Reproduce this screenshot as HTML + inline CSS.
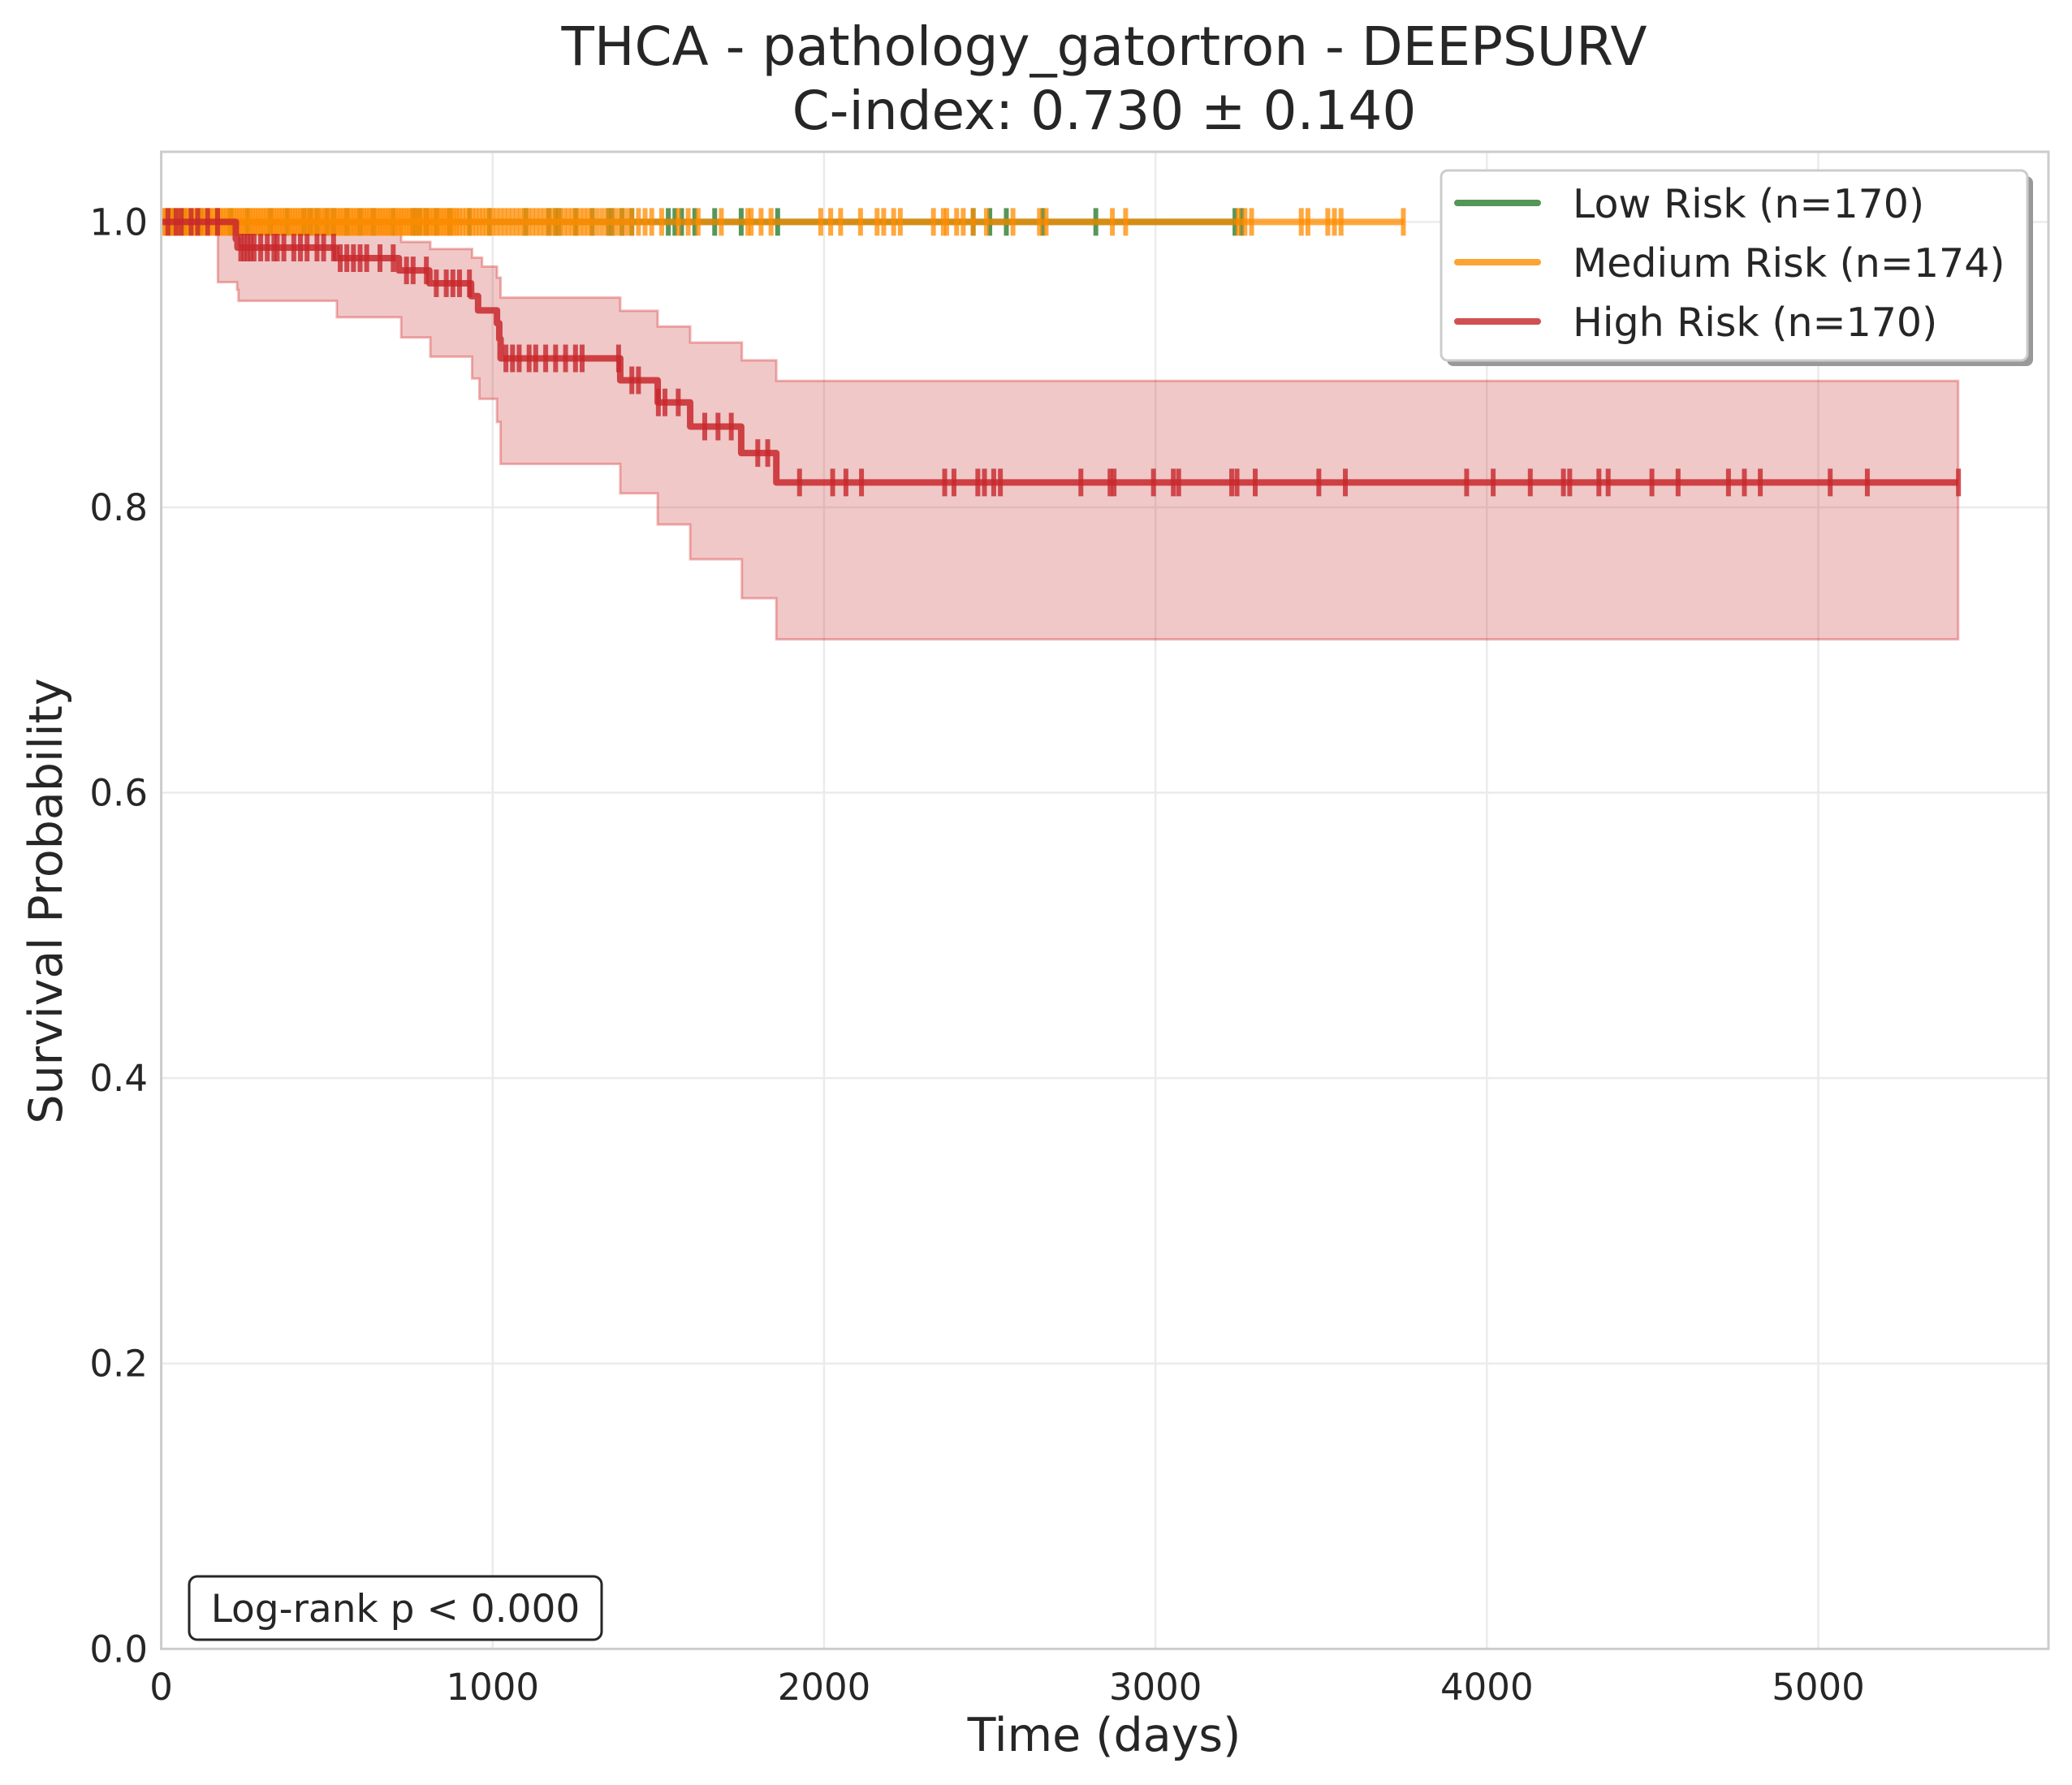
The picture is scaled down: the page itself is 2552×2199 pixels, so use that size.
<!DOCTYPE html>
<html><head><meta charset="utf-8"><style>
html,body{margin:0;padding:0;background:#fff}
svg{display:block;font-family:"DejaVu Sans","Liberation Sans",sans-serif}
</style></head><body>
<svg id="chart" width="2552" height="2199" viewBox="0 0 2552 2199" xmlns="http://www.w3.org/2000/svg">
<rect width="2552" height="2199" fill="#fff"/>
<g id="grid"></g>
<g id="bands"></g>
<g id="lines"></g>
<g id="axes"></g>
<text x="1360" y="80" font-size="66" text-anchor="middle" fill="#262626">THCA - pathology_gatortron - DEEPSURV</text>
<text x="1360" y="159" font-size="66" text-anchor="middle" fill="#262626">C-index: 0.730 ± 0.140</text>
<text x="1360" y="2157" font-size="57" text-anchor="middle" fill="#262626">Time (days)</text>
<text x="0" y="0" font-size="57" text-anchor="middle" fill="#262626" transform="translate(76,1110) rotate(-90)">Survival Probability</text>
<g>
<rect x="1782" y="217" width="722" height="234" rx="8" fill="#999"/>
<rect x="1775" y="210" width="722" height="234" rx="8" fill="#fff" stroke="#cccccc" stroke-width="3"/>
<line x1="1795" y1="250" x2="1894" y2="250" stroke="#559659" stroke-width="8" stroke-linecap="round"/>
<text x="1937" y="268" font-size="49" fill="#262626">Low Risk (n=170)</text>
<line x1="1795" y1="323" x2="1894" y2="323" stroke="#fba431" stroke-width="8" stroke-linecap="round"/>
<text x="1937" y="341" font-size="49" fill="#262626">Medium Risk (n=174)</text>
<line x1="1795" y1="396" x2="1894" y2="396" stroke="#d05152" stroke-width="8" stroke-linecap="round"/>
<text x="1937" y="414" font-size="49" fill="#262626">High Risk (n=170)</text>
</g>
<g>
<rect x="233" y="1942" width="508" height="78" rx="10" fill="#fff" stroke="#262626" stroke-width="3"/>
<text x="487" y="1998" font-size="47" text-anchor="middle" fill="#262626">Log-rank p &lt; 0.000</text>
</g>
</svg>
<script>
const xTicks=[0,1000,2000,3000,4000,5000];
const yTicks=[0,0.2,0.4,0.6,0.8,1.0];
const yTickLabels=["0.0","0.2","0.4","0.6","0.8","1.0"];
const highTimes=[0,225,230,527,717,809,935,956,1013,1020,1024,1385,1498,1596,1750,1856,5422];
const highSurv=[1.0,0.988,0.982,0.9746,0.966,0.957,0.948,0.938,0.929,0.918,0.9044,0.889,0.8735,0.8566,0.838,0.8174,0.8174];
const upperTimes=[0,724,812,938,968,1013,1024,1385,1498,1596,1752,1856,5422];
const upperSurv=[1.0,0.986,0.981,0.975,0.9687,0.961,0.947,0.9377,0.9267,0.9155,0.903,0.8886,0.8886];
const lowerTimes=[0,171,229,233,530,724,812,938,960,1013,1024,1385,1498,1596,1752,1856,5422];
const lowerSurv=[1.0,0.9578,0.9524,0.9447,0.9332,0.919,0.9056,0.8903,0.876,0.8598,0.8304,0.8098,0.788,0.7636,0.7363,0.7075,0.7075];
const highCensor=[20,45,60,90,110,140,170,240,250,260,270,280,300,320,340,350,370,400,420,440,470,490,520,540,560,580,600,620,660,700,740,760,800,830,860,880,900,930,1040,1060,1080,1110,1130,1160,1190,1220,1250,1270,1380,1420,1440,1500,1520,1560,1640,1680,1720,1800,1830,1926,2026,2066,2113,2364,2392,2464,2484,2512,2532,2775,2863,2875,2994,3054,3070,3230,3246,3301,3493,3573,3939,4019,4131,4231,4250,4338,4366,4498,4577,4729,4777,4825,5036,5148,5423];
const lowEnd=3260;
const lowCensor=[30,70,120,170,210,260,330,380,430,450,470,500,520,560,600,640,700,760,770,780,800,830,870,930,990,1100,1170,1190,1200,1250,1300,1350,1360,1390,1420,1530,1550,1570,1610,1670,1750,1860,2450,2500,2550,2660,2820,3240,3260];
const medEnd=3750;
const medCensor=[5,12,20,28,36,44,52,60,68,76,84,92,100,108,116,124,132,140,148,156,164,172,180,188,196,204,212,220,228,236,244,252,260,268,276,284,292,300,308,316,324,332,340,348,356,364,372,380,388,396,404,412,420,428,436,444,452,460,468,476,484,492,500,508,516,524,532,540,548,556,564,572,580,588,596,604,612,620,628,636,644,652,660,668,676,684,692,700,708,716,724,732,740,748,756,764,772,780,788,796,804,812,820,828,836,844,852,860,868,876,884,892,900,910,920,930,940,950,960,970,980,990,1000,1012,1024,1036,1048,1060,1072,1084,1096,1108,1120,1132,1144,1156,1168,1180,1192,1204,1216,1228,1240,1252,1264,1276,1288,1300,1315,1330,1345,1360,1375,1390,1405,1420,1440,1460,1480,1510,1560,1590,1620,1690,1770,1780,1810,1840,1990,2020,2050,2110,2160,2180,2210,2230,2330,2360,2370,2400,2420,2450,2490,2570,2650,2670,2870,2910,3250,3270,3290,3440,3460,3520,3540,3560,3748];

const X=t=>198.6+t*0.40818;
const Y=s=>2031.3-s*1757.9;
const NS="http://www.w3.org/2000/svg";
function mk(tag,attrs,parent){const e=document.createElementNS(NS,tag);for(const k in attrs)e.setAttribute(k,attrs[k]);parent.appendChild(e);return e;}
const grid=document.getElementById('grid'),axes=document.getElementById('axes'),bands=document.getElementById('bands'),lines=document.getElementById('lines');
xTicks.forEach(t=>{
  const g=mk('line',{x1:X(t),x2:X(t),y1:187,y2:2031,stroke:'#ebebeb','stroke-width':2.5},grid);
  
  
  const l=mk('text',{x:X(t),y:2094,'font-size':45,'text-anchor':'middle',fill:'#262626'},axes);
  l.textContent=t;
  
  
});
yTicks.forEach((v,i)=>{
  const g=mk('line',{x1:198.6,x2:2523,y1:Y(v),y2:Y(v),stroke:'#ebebeb','stroke-width':2.5},grid);
  
  
  const l=mk('text',{x:182,y:Y(v)+16,'font-size':45,'text-anchor':'end',fill:'#262626'},axes);
  l.textContent=yTickLabels[i];
  
  
});
const frame=mk('rect',{x:198.6,y:187,width:2324.4,height:1844.3,fill:'none',stroke:'#cccccc','stroke-width':3},axes);



function stepPts(ts,ss){let p=[];for(let i=0;i<ts.length;i++){if(i>0)p.push([X(ts[i]),Y(ss[i-1])]);p.push([X(ts[i]),Y(ss[i])]);}return p;}
function survAt(ts,ss,t){let s=ss[0];for(let i=0;i<ts.length;i++){if(ts[i]<=t)s=ss[i];}return s;}
const up=stepPts(upperTimes,upperSurv),lo=stepPts(lowerTimes,lowerSurv);
const bandPts=up.concat(lo.reverse()).map(p=>p.join(',')).join(' ');
const band=mk('polygon',{points:bandPts,fill:'rgba(200,50,50,0.27)',stroke:'rgba(214,39,40,0.35)','stroke-width':3},bands);



function flat(end,color,name,censor,op){
  const l=mk('line',{x1:X(0),x2:X(end),y1:Y(1),y2:Y(1),stroke:color,'stroke-width':8,opacity:op},lines);
  
  
  censor.forEach(t=>{
    const c=mk('line',{x1:X(t),x2:X(t),y1:Y(1)-17,y2:Y(1)+17,stroke:color,'stroke-width':6,opacity:op},lines);
    
    
  });
}
flat(lowEnd,'#2e7d32','low-risk',lowCensor,0.8);
flat(medEnd,'#ff8c00','medium-risk',medCensor,0.75);
const hp=stepPts(highTimes,highSurv).map(p=>p.join(',')).join(' ');
const hl=mk('polyline',{points:hp,fill:'none',stroke:'#c8282c','stroke-width':8,opacity:0.85,'stroke-linejoin':'round'},lines);


highCensor.forEach(t=>{
  const s=survAt(highTimes,highSurv,t);
  const c=mk('line',{x1:X(t),x2:X(t),y1:Y(s)-17,y2:Y(s)+17,stroke:'#c8282c','stroke-width':6,opacity:0.8},lines);
  
  
});
</script>
</body></html>
